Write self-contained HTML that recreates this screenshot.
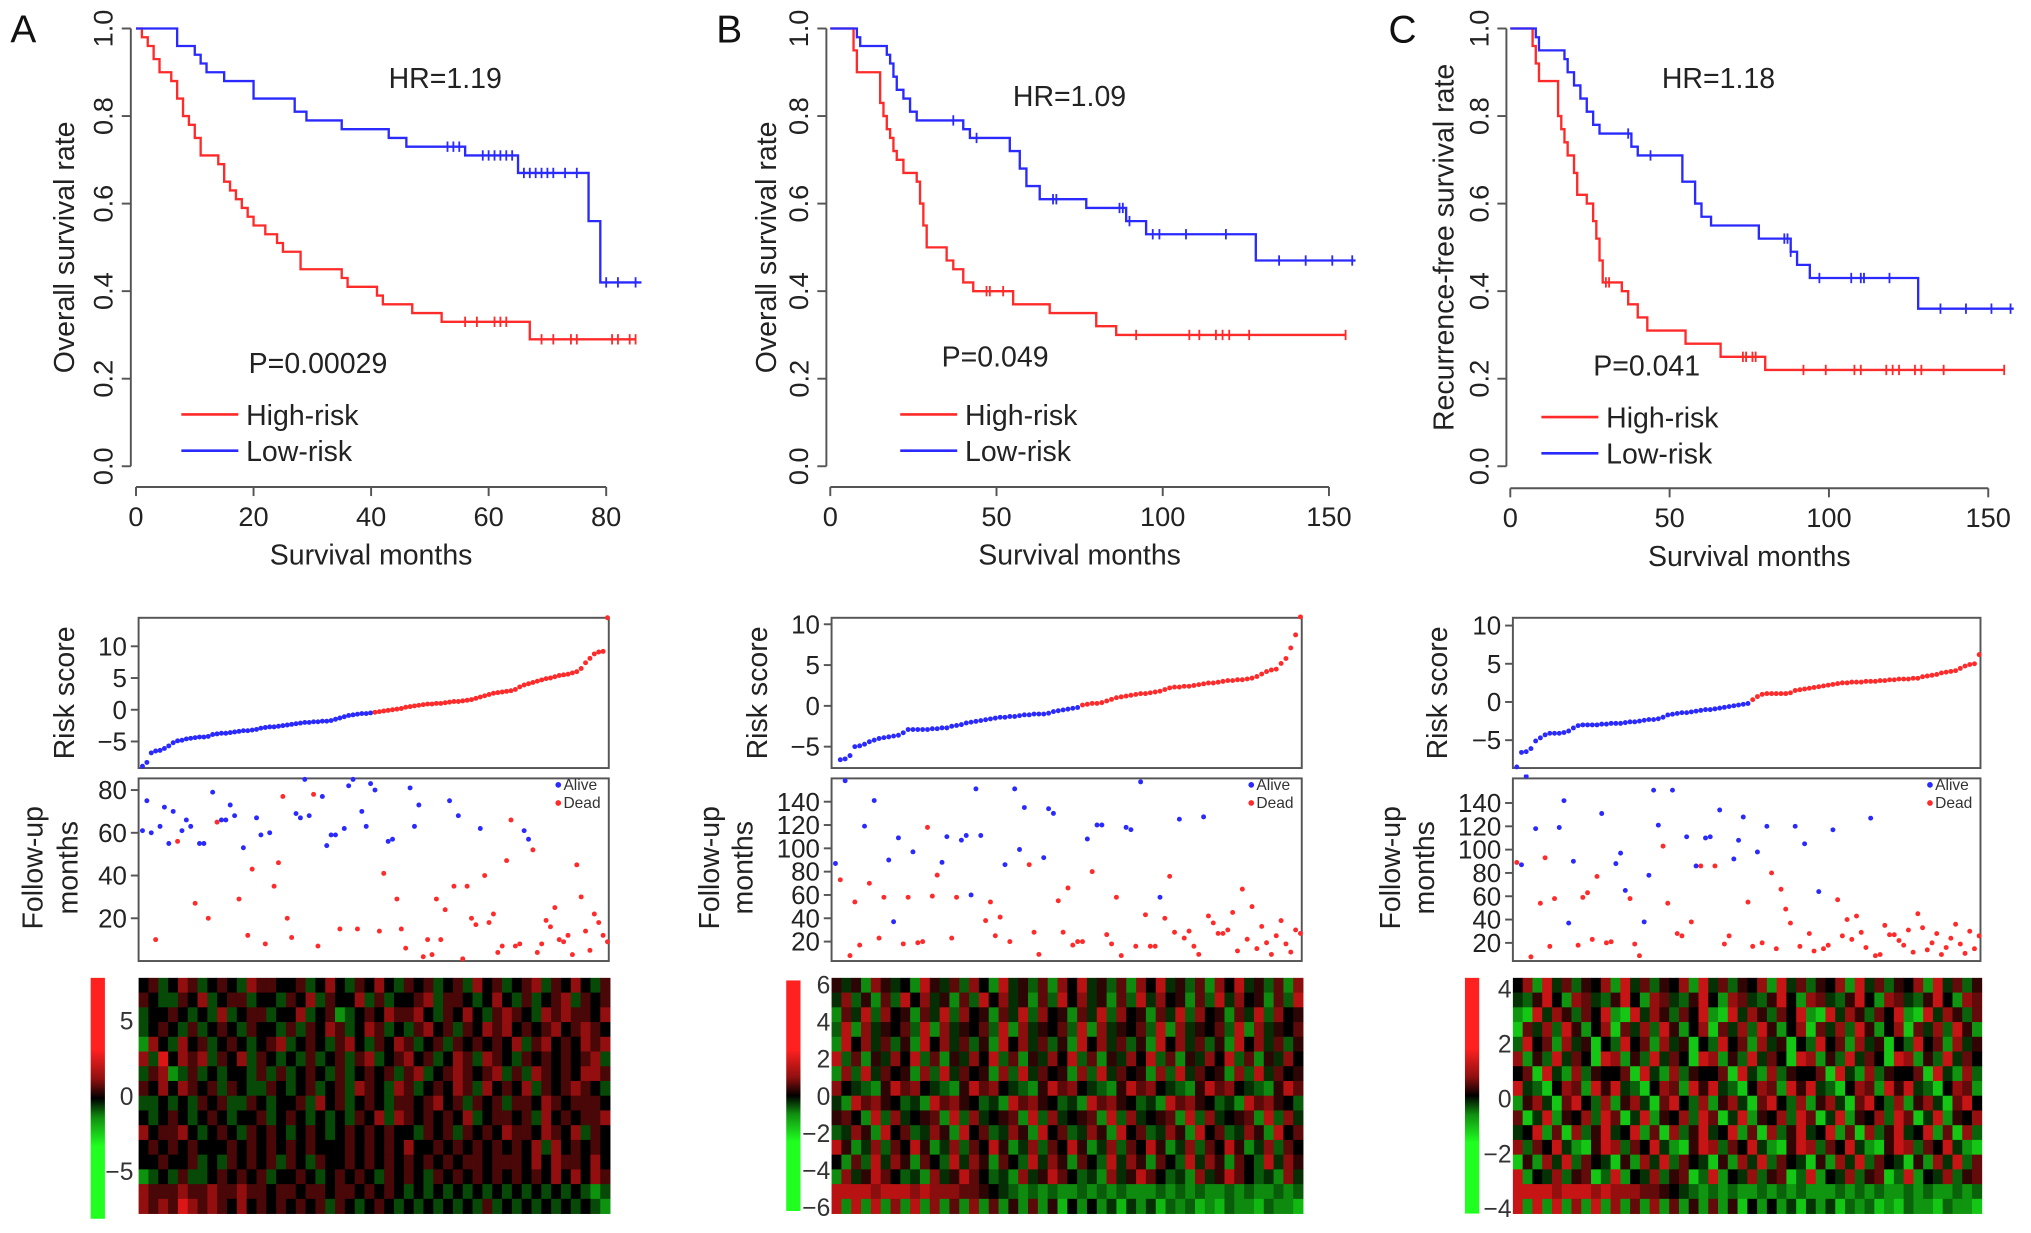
<!DOCTYPE html>
<html><head><meta charset="utf-8"><title>Risk score survival analysis</title>
<style>
html,body{margin:0;padding:0;background:#fff;}
svg{display:block;font-family:"Liberation Sans",Arial,sans-serif;}
</style></head>
<body>
<svg id="fig" xmlns="http://www.w3.org/2000/svg" width="2031" height="1233" viewBox="0 0 1568 952" preserveAspectRatio="none"></svg>
<script>
// ---------- Kaplan-Meier data ----------
const kmA_high = [[0,1],[1,.98],[2,.96],[3,.93],[4,.9],[6,.88],[7,.84],[8,.8],[9,.78],[10,.75],[11,.71],[14,.69],[15,.65],[16,.63],[17,.61],[18,.59],[19,.57],[20,.55],[22,.53],[24,.51],[25,.49],[28,.45],[35,.43],[36,.41],[41,.39],[42,.37],[47,.35],[52,.33],[67,.29]];
const kmA_low = [[0,1],[7,.96],[10,.94],[11,.92],[12,.9],[15,.88],[20,.84],[27,.81],[29,.79],[35,.77],[43,.75],[46,.73],[56,.71],[65,.67],[77,.56],[79,.42]];
const censA_high = [56,58,61,62,63,69,71,74,75,81,82,84,85];
const censA_low = [53,54,55,59,60,61,62,63,64,66,67,68,69,70,71,73,75,80,82,85];
const kmB_high = [[0,1],[7,.95],[8,.9],[15,.83],[16,.8],[17,.77],[18,.75],[19,.72],[20,.7],[22,.67],[26,.65],[27,.6],[28,.55],[29,.5],[35,.47],[37,.45],[40,.42],[43,.4],[55,.37],[66,.35],[80,.32],[86,.3]];
const kmB_low = [[0,1],[8,.98],[9,.96],[17,.94],[18,.92],[19,.89],[20,.86],[22,.84],[24,.81],[26,.79],[40,.77],[42,.75],[54,.72],[57,.68],[59,.64],[63,.61],[77,.59],[89,.56],[95,.53],[128,.47]];
const censB_high = [47,48,52,92,108,111,116,118,120,126,155];
const censB_low = [37,44,67,68,87,88,90,97,99,107,119,135,143,151,157];
const kmC_high = [[0,1],[7,.96],[8,.92],[9,.88],[15,.8],[16,.77],[17,.74],[18,.71],[20,.67],[21,.62],[24,.6],[26,.56],[27,.52],[28,.47],[29,.42],[35,.4],[37,.37],[40,.34],[43,.31],[55,.28],[66,.25],[80,.22]];
const kmC_low = [[0,1],[8,.98],[9,.95],[17,.93],[18,.9],[20,.87],[22,.84],[24,.81],[26,.78],[28,.76],[38,.73],[40,.71],[54,.65],[58,.6],[60,.57],[63,.55],[78,.52],[88,.49],[90,.46],[94,.43],[128,.36]];
const censC_high = [30,31,73,74,76,77,92,99,108,110,118,120,122,127,129,136,155];
const censC_low = [37,44,86,87,88,97,107,110,111,119,135,143,151,157];
const kmXTicksA = [0,20,40,60,80];
const kmXTicksBC = [0,50,100,150];
const kmYTicks = [0,0.2,0.4,0.6,0.8,1.0];

// ---------- Risk score data ----------
const riskA = [-8.9,-8.3,-6.8,-6.5,-6.4,-6.1,-5.7,-5.2,-4.9,-4.8,-4.6,-4.5,-4.4,-4.3,-4.3,-4.2,-3.9,-3.8,-3.7,-3.7,-3.6,-3.5,-3.4,-3.3,-3.3,-3.2,-3.1,-2.9,-2.8,-2.7,-2.7,-2.6,-2.5,-2.4,-2.3,-2.2,-2.1,-2.0,-2.0,-1.9,-1.9,-1.8,-1.8,-1.7,-1.5,-1.3,-1.1,-0.9,-0.8,-0.7,-0.6,-0.6,-0.5,
 -0.4,-0.3,-0.2,-0.1,0,0.1,0.2,0.4,0.5,0.6,0.7,0.8,0.9,0.9,1.0,1.0,1.1,1.2,1.3,1.3,1.4,1.5,1.6,1.8,2.0,2.2,2.4,2.6,2.7,2.8,2.9,3.0,3.2,3.6,3.9,4.1,4.3,4.5,4.7,4.9,5.0,5.2,5.4,5.5,5.6,5.8,6.0,6.5,7.4,8.1,8.8,9.1,9.2,14.5];
const lowCountA = 53;
const riskB = [-8.5,-6.6,-6.5,-6.1,-5.0,-4.9,-4.7,-4.4,-4.2,-4.0,-3.9,-3.8,-3.7,-3.6,-3.3,-2.9,-2.9,-2.9,-2.9,-2.9,-2.8,-2.8,-2.7,-2.7,-2.5,-2.4,-2.3,-2.1,-2.0,-1.9,-1.8,-1.7,-1.6,-1.5,-1.4,-1.4,-1.3,-1.3,-1.2,-1.1,-1.1,-1.0,-1.0,-1.0,-0.9,-0.7,-0.6,-0.5,-0.4,-0.3,-0.2,
 0.1,0.2,0.3,0.3,0.4,0.6,0.8,1.0,1.1,1.2,1.3,1.4,1.5,1.5,1.6,1.7,1.8,2.0,2.2,2.3,2.3,2.4,2.4,2.5,2.6,2.7,2.8,2.8,2.9,3.0,3.1,3.1,3.2,3.2,3.3,3.4,3.6,3.9,4.2,4.4,4.5,5.2,5.8,7.1,8.7,10.9];
const lowCountB = 51;
const riskC = [-8.5,-6.6,-6.5,-6.1,-5.1,-4.7,-4.3,-4.1,-4.1,-4.1,-4.0,-3.8,-3.4,-3.1,-3.0,-3.0,-3.0,-3.0,-2.9,-2.9,-2.8,-2.8,-2.8,-2.7,-2.6,-2.6,-2.5,-2.4,-2.3,-2.3,-2.2,-2.0,-1.7,-1.6,-1.5,-1.4,-1.4,-1.3,-1.2,-1.1,-1.0,-1.0,-0.9,-0.8,-0.7,-0.6,-0.5,-0.4,-0.3,-0.2,
 0.3,0.7,1.0,1.1,1.1,1.1,1.1,1.1,1.2,1.5,1.6,1.7,1.8,1.9,2.0,2.1,2.2,2.3,2.4,2.5,2.5,2.6,2.6,2.6,2.7,2.7,2.7,2.8,2.8,2.9,2.9,3.0,3.0,3.0,3.1,3.1,3.3,3.4,3.5,3.6,3.8,3.9,4.0,4.1,4.4,4.7,4.9,5.0,6.2];
const lowCountC = 50;
const riskTicks = [-5,0,5,10];

// ---------- Follow-up data (months, status a=alive d=dead) ----------
const followA = "61a,75a,60a,10d,63a,72a,55a,70a,56d,61a,66a,63a,27d,55a,55a,20d,79a,65d,66a,66a,73a,68a,29d,53a,12d,43d,67a,59a,8d,60a,35d,46d,77d,20d,11d,69a,67a,85a,68a,78d,7d,77a,54a,59a,59a,15d,62a,82a,85a,15d,70a,63a,83a,80a,14d,41d,56a,57a,29d,15d,6d,81a,63a,73a,2d,10d,3d,29d,10d,24d,75a,35d,68a,1d,35d,20d,17d,62a,40d,18d,22d,4d,7d,47d,66d,7d,8d,61a,57a,52d,4d,8d,19d,16d,25d,10d,9d,12d,3d,45d,30d,14d,5d,22d,18d,12d,9d";
const followB = "87a,73d,158a,8d,54d,17d,119a,70d,141a,23d,58d,90a,37a,109a,18d,58d,97a,19d,20d,118d,59d,77d,88a,110a,23d,58d,107a,111a,60a,151a,111a,38d,54d,25d,41d,86a,20d,151a,99a,135a,86d,28d,9d,92a,134a,130a,55d,28d,66d,17d,20d,20d,108a,80d,120a,120a,26d,18d,58d,8d,118a,116a,16d,157a,43d,16d,16d,58a,40d,76d,28d,125a,23d,29d,16d,9d,127a,42d,36d,27d,27d,30d,45d,12d,65d,22d,50d,14d,33d,19d,9d,25d,38d,18d,11d,30d,27d";
const followC = "89d,87a,163a,8d,118a,54d,93d,17d,58d,119a,142a,37a,90a,18d,59d,63d,23d,77d,131a,20d,21d,88a,97a,65a,58d,19d,9d,38a,78a,151a,121a,103d,54d,151a,28d,26d,111a,38d,86a,86d,110a,111a,86d,134a,19d,26d,92a,108a,128a,55d,17d,98a,20d,120a,80d,15d,66d,49d,37d,120a,17d,105a,28d,13d,64a,15d,18d,117a,57d,26d,40d,23d,43d,29d,16d,127a,9d,10d,35d,27d,27d,22d,18d,31d,12d,45d,33d,14d,20d,28d,10d,16d,24d,36d,19d,11d,30d,15d,26d";
const followTicksA = [20,40,60,80];
const followTicksBC = [20,40,60,80,100,120,140];

// ---------- Heatmap data (digits 0..8 -> low..high) ----------
const heatA = [
"453465345436554453464354643545345364534563546435","543354634553443546354463534456355434643534563545",
"344543436345534463452345465564354643565436565546","345435345435443535465346534356453546564545645654",
"264364534543456345435643546534535454546356454656","637465635463543435345356345645346536543545454563",
"356235343443535345435345453563456545635365454665","546465453543354345345365436534546536454635456543",
"334343545335434453645345435545645354535546545554","434543454344534543434354636545454634554536454556",
"645564345435454345434545454435453545465546546354","454545444545454545444545454644545454545463645454",
"445445343545453543544545454545454554555464655464","234353345454534454345454354543545454545454646465",
"655565565565545545545545454343434343434343434323","656576565464545454535434543434343435343434343432"];
const heatB = [
"535175341853627418352617483526174835261748352617","372516284735162847351628473516283745162837451628",
"163827451638274516382745163827451638274516382745","281735462817354628173546281735462817354628173546",
"184736251847362518473625184736251847362518473625","826153748261537482615374826153748261537482615374",
"172836451728364517283645172836451728364517283645","743215867432158674321586743215867432158674321586",
"318675423186754231867542318675423186754231867542","564182734561827345618273456182734561827345618273",
"237518462375184623751846237518462375184623751846","851372648513726485137264851372648513726485137264",
"416283751642837516428375164283751642837516428375","173586423173586423173586423173586423173586423173",
"888878887877766543212121121212111212121121211212","818181718171617161516150414130313021201021102110"];
const heatC = [
"471836254718362547183625471836254718362547183625","325841763258417632584176325841763258417632584176",
"108375264810837526481083752648108375264810837526","063728514706372851470637285147063728514706372851",
"284617350428461735042846173504284617350428461735","715283640871528364087152836408715283640871528364",
"460831725446083172544608317254460831725446083172","832047618583204761858320476185832047618583204761",
"157306842715730684271573068427157306842715730684","603815472860381547286038154728603815472860381547",
"348160725834816072583481607258348160725834816072","726483105872648310587264831058726483105872648310",
"051738264305173826430517382643051738264305173826","814372560281437256028143725602814372560281437256",
"888878887877766543212121121212111212121121211212","818181718171617161516150414130313021201021102110"];
const cbTicksA = [-5,0,5];
const cbTicksB = [-6,-4,-2,0,2,4,6];
const cbTicksC = [-4,-2,0,2,4];

// ---------- drawing ----------
const svg = document.getElementById('fig');
const NS = 'http://www.w3.org/2000/svg';
function mk(tag, attrs, parent){const e=document.createElementNS(NS,tag);for(const k in attrs)e.setAttribute(k,attrs[k]);(parent||svg).appendChild(e);return e;}
function txt(str, attrs, parent){const e=mk('text',attrs,parent);e.textContent=str;return e;}
function fmtMinus(v){return String(v).replace('-','\u2212');}
const RED='#ff2a2a', BLUE='#2a2aff', AX='#555';

function survAt(steps,t){let s=1;for(const p of steps){if(p[0]<=t)s=p[1];}return s;}

function drawKM(cfg){
  const g=mk('g',{});
  
  
  const X=t=>cfg.x0+(t-0)*(cfg.x1-cfg.x0)/cfg.xmax;
  const Y=s=>cfg.y0+(1-s)*(cfg.y1-cfg.y0);
  const ya=mk('path',{d:`M${cfg.yaxX} ${Y(0)}V${Y(1)}`,stroke:AX,'stroke-width':1.5,fill:'none'},g);
  
  kmYTicks.forEach(v=>{
    mk('path',{d:`M${cfg.yaxX} ${Y(v)}h-7`,stroke:AX,'stroke-width':1.5},g);
    const t=txt(v.toFixed(1),{x:cfg.yaxX-14,y:Y(v),'font-size':21,fill:'#222','text-anchor':'middle',transform:`rotate(-90 ${cfg.yaxX-14} ${Y(v)})`},g);
    
  });
  const ticks=cfg.xticks;
  const xa=mk('path',{d:`M${X(ticks[0])} ${cfg.xaxY}H${X(ticks[ticks.length-1])}`,stroke:AX,'stroke-width':1.5,fill:'none'},g);
  
  ticks.forEach(v=>{
    mk('path',{d:`M${X(v)} ${cfg.xaxY}v7`,stroke:AX,'stroke-width':1.5},g);
    const t=txt(String(v),{x:X(v),y:cfg.xaxY+30,'font-size':21,fill:'#222','text-anchor':'middle'},g);
    
  });
  const xt=txt('Survival months',{x:(X(ticks[0])+X(ticks[ticks.length-1]))/2,y:cfg.xaxY+60,'font-size':22,fill:'#222','text-anchor':'middle'},g);
  
  const yt=txt(cfg.ylabel,{x:cfg.ylabX,y:(Y(0)+Y(1))/2,'font-size':22,fill:'#222','text-anchor':'middle',transform:`rotate(-90 ${cfg.ylabX} ${(Y(0)+Y(1))/2})`},g);
  
  [[cfg.high,cfg.censHigh,cfg.endHigh,RED,'high-risk'],[cfg.low,cfg.censLow,cfg.endLow,BLUE,'low-risk']].forEach(([st,cens,end,col,nm])=>{
    let d=`M${X(st[0][0])} ${Y(st[0][1])}`;
    for(let i=1;i<st.length;i++){d+=`H${X(st[i][0])}V${Y(st[i][1])}`;}
    d+=`H${X(end)}`;
    const p=mk('path',{d:d,stroke:col,'stroke-width':1.8,fill:'none'},g);
    
    cens.forEach(t=>{
      const c=mk('path',{d:`M${X(t)} ${Y(survAt(st,t))-4}v8`,stroke:col,'stroke-width':1.4},g);
      
    });
  });
  const hr=txt(cfg.hr,{x:cfg.hrX,y:cfg.hrY,'font-size':22,fill:'#222'},g);
  
  const pv=txt(cfg.p,{x:cfg.pX,y:cfg.pY,'font-size':22,fill:'#222'},g);
  
  [['High-risk',RED,0],['Low-risk',BLUE,28]].forEach(([lab,col,dy])=>{
    const lg=mk('g',{},g);
    
    
    mk('path',{d:`M${cfg.legX} ${cfg.legY+dy}h44`,stroke:col,'stroke-width':2},lg);
    txt(lab,{x:cfg.legX+50,y:cfg.legY+dy+8,'font-size':22,fill:'#222'},lg);
  });
  const L=txt(cfg.letter,{x:cfg.letX,y:33,'font-size':30,fill:'#111'},g);
  
}

function drawRisk(cfg){
  const g=mk('g',{});
  
  
  const n=cfg.risk.length;
  const X=i=>cfg.bx0+3+i*(cfg.bx1-cfg.bx0-4)/(n-1);
  const Y=v=>cfg.t0y-(v-0)*cfg.ppu;
  const b=mk('rect',{x:cfg.bx0,y:477,width:cfg.bx1-cfg.bx0,height:116,fill:'none',stroke:AX,'stroke-width':1.5},g);
  
  riskTicks.forEach(v=>{
    mk('path',{d:`M${cfg.bx0} ${Y(v)}h-6`,stroke:AX,'stroke-width':1.5},g);
    const t=txt(fmtMinus(v),{x:cfg.bx0-9,y:Y(v)+7,'font-size':20,fill:'#222','text-anchor':'end'},g);
    
  });
  const clip='clip-'+cfg.id;
  const cp=mk('clipPath',{id:clip},g);mk('rect',{x:cfg.bx0-3,y:474,width:cfg.bx1-cfg.bx0+6,height:122},cp);
  const dg=mk('g',{'clip-path':`url(#${clip})`},g);
  cfg.risk.forEach((v,i)=>{
    const c=mk('circle',{cx:X(i),cy:Y(v),r:1.9,fill:i<cfg.low?BLUE:RED},dg);
    
  });
  const yt=txt('Risk score',{x:cfg.ylabX,y:535,'font-size':22,fill:'#222','text-anchor':'middle',transform:`rotate(-90 ${cfg.ylabX} 535)`},g);
  

  const f=cfg.follow.split(',').map(s=>[parseFloat(s),s.slice(-1)]);
  const m=f.length;
  const FX=i=>cfg.bx0+3+i*(cfg.bx1-cfg.bx0-4)/(m-1);
  const FY=v=>cfg.f20y-(v-20)*cfg.fppu;
  const fb=mk('rect',{x:cfg.bx0,y:601,width:cfg.bx1-cfg.bx0,height:141,fill:'none',stroke:AX,'stroke-width':1.5},g);
  
  cfg.fticks.forEach(v=>{
    mk('path',{d:`M${cfg.bx0} ${FY(v)}h-6`,stroke:AX,'stroke-width':1.5},g);
    const t=txt(String(v),{x:cfg.bx0-9,y:FY(v)+7,'font-size':20,fill:'#222','text-anchor':'end'},g);
    
  });
  const clip2='clipf-'+cfg.id;
  const cp2=mk('clipPath',{id:clip2},g);mk('rect',{x:cfg.bx0-3,y:598,width:cfg.bx1-cfg.bx0+6,height:147},cp2);
  const fg=mk('g',{'clip-path':`url(#${clip2})`},g);
  f.forEach(([v,s],i)=>{
    const c=mk('circle',{cx:FX(i),cy:FY(v),r:1.9,fill:s==='a'?BLUE:RED},fg);
    
  });
  [['Alive',BLUE,610],['Dead',RED,624]].forEach(([lab,col,y])=>{
    const lg=mk('g',{},g);
    
    
    mk('circle',{cx:cfg.bx1-39,cy:y-4,r:2.2,fill:col},lg);
    txt(lab,{x:cfg.bx1-35,y:y,'font-size':12,fill:'#333'},lg);
  });
  const f1=txt('Follow-up',{x:cfg.fl1,y:670,'font-size':22,fill:'#222','text-anchor':'middle',transform:`rotate(-90 ${cfg.fl1} 670)`},g);
  
  const f2=txt('months',{x:cfg.fl2,y:670,'font-size':22,fill:'#222','text-anchor':'middle',transform:`rotate(-90 ${cfg.fl2} 670)`},g);
  

  const rows=cfg.heat.length, cols=cfg.heat[0].length;
  const hx0=cfg.bx0, hx1=cfg.bx1+1, hy0=755, hy1=937;
  const cw=(hx1-hx0)/cols, ch=(hy1-hy0)/rows;
  const hg=mk('g',{},g);
  
  cfg.heat.forEach((row,r)=>{
    for(let c=0;c<cols;c++){
      const v=(parseInt(row[c])-4)/4;
      const k=Math.min(1,Math.abs(v)*cfg.gain);
      const col=v>=0?`rgb(${Math.round(255*k)},${Math.round(25*k)},${Math.round(25*k)})`:`rgb(${Math.round(25*k)},${Math.round(255*k)},${Math.round(25*k)})`;
      const cell=mk('rect',{x:hx0+c*cw,y:hy0+r*ch,width:cw+0.3,height:ch+0.3,fill:col},hg);
      
      
    }
  });
  const gid='cbg-'+cfg.id;
  const defs=mk('defs',{},g);
  const lgd=mk('linearGradient',{id:gid,x1:0,y1:0,x2:0,y2:1},defs);
  [[0,'#ff2020'],[0.3,'#ff2020'],[0.42,'#901010'],[0.5,'#000'],[0.58,'#108f10'],[0.7,'#20ff20'],[1,'#20ff20']].forEach(([o,c])=>mk('stop',{offset:o,'stop-color':c},lgd));
  const cb=mk('rect',{x:cfg.cbx,y:cfg.cby0,width:11,height:cfg.cby1-cfg.cby0,fill:`url(#${gid})`},g);
  
  const CY=v=>cfg.cb0y-v*cfg.cbppu;
  cfg.cbticks.forEach(v=>{
    const t=txt(fmtMinus(v),{x:cfg.cbLabX,y:CY(v)+7,'font-size':19,fill:'#333','text-anchor':'end'},g);
    
  });
}

drawKM({id:'a',letter:'A',letX:8,x0:105,x1:468,xmax:80,y0:22,y1:360,yaxX:101,xaxY:376,xticks:kmXTicksA,
  high:kmA_high,low:kmA_low,censHigh:censA_high,censLow:censA_low,endHigh:85,endLow:86,
  ylabel:'Overall survival rate',ylabX:57,hr:'HR=1.19',hrX:300,hrY:68,p:'P=0.00029',pX:192,pY:288,legX:140,legY:320});
drawKM({id:'b',letter:'B',letX:553,x0:641,x1:1026,xmax:150,y0:22,y1:360,yaxX:638,xaxY:376,xticks:kmXTicksBC,
  high:kmB_high,low:kmB_low,censHigh:censB_high,censLow:censB_low,endHigh:155,endLow:158,
  ylabel:'Overall survival rate',ylabX:599,hr:'HR=1.09',hrX:782,hrY:82,p:'P=0.049',pX:727,pY:283,legX:695,legY:320});
drawKM({id:'c',letter:'C',letX:1072,x0:1166,x1:1535,xmax:150,y0:22,y1:360,yaxX:1163,xaxY:377,xticks:kmXTicksBC,
  high:kmC_high,low:kmC_low,censHigh:censC_high,censLow:censC_low,endHigh:155,endLow:158,
  ylabel:'Recurrence-free survival rate',ylabX:1122,hr:'HR=1.18',hrX:1283,hrY:68,p:'P=0.041',pX:1230,pY:290,legX:1190,legY:322});

drawRisk({id:'a',bx0:107,bx1:470,risk:riskA,low:lowCountA,t0y:548,ppu:4.9,ylabX:57,
  follow:followA,f20y:709,fppu:1.65,fticks:followTicksA,fl1:33,fl2:60,heat:heatA,gain:1.15,
  cbx:70,cby0:755,cby1:941,cb0y:846,cbppu:11.6,cbticks:cbTicksA,cbLabX:103});
drawRisk({id:'b',bx0:642,bx1:1005,risk:riskB,low:lowCountB,t0y:545,ppu:6.3,ylabX:592,
  follow:followB,f20y:727,fppu:0.9,fticks:followTicksBC,fl1:555,fl2:581,heat:heatB,gain:0.72,
  cbx:607,cby0:757,cby1:935,cb0y:846,cbppu:14.3,cbticks:cbTicksB,cbLabX:641});
drawRisk({id:'c',bx0:1168,bx1:1529,risk:riskC,low:lowCountC,t0y:542,ppu:5.9,ylabX:1117,
  follow:followC,f20y:728,fppu:0.9,fticks:followTicksBC,fl1:1081,fl2:1107,heat:heatC,gain:0.78,
  cbx:1131,cby0:755,cby1:937,cb0y:848,cbppu:21.2,cbticks:cbTicksC,cbLabX:1167});
</script>
</body></html>
